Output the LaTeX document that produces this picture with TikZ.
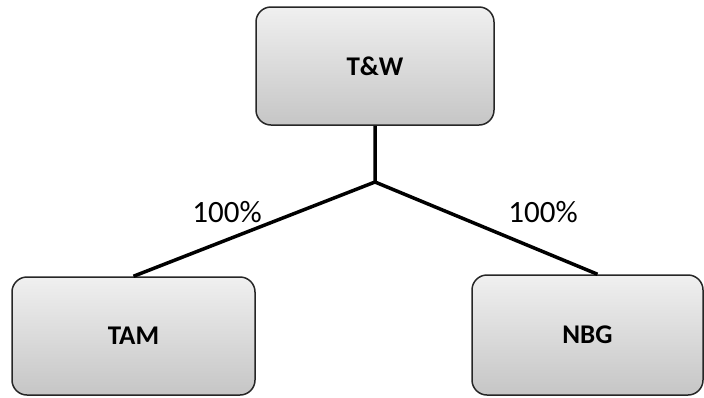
\documentclass[tikz,border=0pt]{standalone}
\usepackage{fontspec}
\setmainfont{Carlito}
\usetikzlibrary{calc}
\begin{document}
\begin{tikzpicture}[x=1pt, y=-1pt]
\tikzstyle{entity} = [rounded corners=15pt, draw=black!85, line width=1.5pt, top color=gray!12, bottom color=gray!45, text centered, font=\fontsize{27}{32}\selectfont\bfseries, inner sep=0pt]
\tikzstyle{share} = [font=\fontsize{31}{36}\selectfont]
\tikzstyle{link} = [line width=3.5pt, line join=round]

\useasboundingbox (0,0) rectangle (704,397);

\node (TW) [entity, minimum width=238pt, minimum height=118pt] at (375,66) {T\&W};
\node (TAM) [entity, minimum width=243pt, minimum height=118pt] at (133.5,336) {TAM};
\node (NBG) [entity, minimum width=231pt, minimum height=120pt] at (587.5,335) {NBG};

\coordinate (Junction) at (375,182);

\draw [link] (TW.south) -- (Junction) -- (TAM.north);
\draw [link] (Junction) -- ($(NBG.north)+(10,0)$);

\node (TAMShare) [share] at (227,212) {100\%};
\node (NBGShare) [share] at (543,212) {100\%};

\end{tikzpicture}
\end{document}
